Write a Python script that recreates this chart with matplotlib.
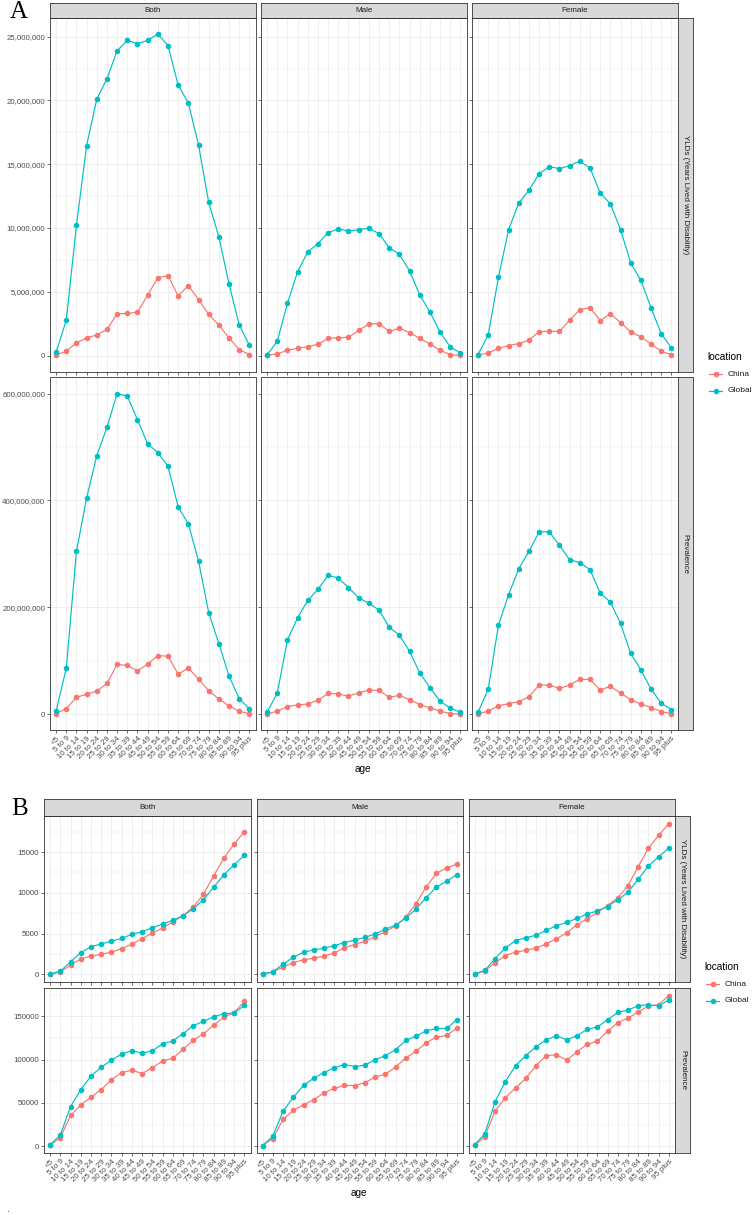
import matplotlib
matplotlib.use("Agg")
import matplotlib.pyplot as plt
from matplotlib.ticker import FuncFormatter, FixedLocator
import numpy as np

# ---------------- data ----------------
ages = ["<5", "5 to 9", "10 to 14", "15 to 19", "20 to 24", "25 to 29", "30 to 34",
        "35 to 39", "40 to 44", "45 to 49", "50 to 54", "55 to 59", "60 to 64",
        "65 to 69", "70 to 74", "75 to 79", "80 to 84", "85 to 89", "90 to 94", "95 plus"]
sexes = ["Both", "Male", "Female"]
locations = ["China", "Global"]
measures = ["YLDs (Years Lived with Disability)", "Prevalence"]

# Panel A: counts (millions)
both_yld_global = [0.25, 2.77, 10.2, 16.46, 20.1, 21.7, 23.9, 24.7, 24.45, 24.7, 25.2, 24.3, 21.2, 19.8, 16.5, 12.0, 9.3, 5.6, 2.4, 0.8]
both_yld_china = [0.05, 0.34, 1.0, 1.38, 1.62, 2.05, 3.27, 3.3, 3.4, 4.75, 6.09, 6.27, 4.68, 5.49, 4.39, 3.24, 2.38, 1.38, 0.47, 0.08]
male_yld_global = [0.05, 1.12, 4.1, 6.58, 8.13, 8.78, 9.64, 9.93, 9.77, 9.87, 9.98, 9.56, 8.46, 7.94, 6.64, 4.76, 3.42, 1.83, 0.68, 0.21]
male_yld_china = [0.04, 0.13, 0.42, 0.57, 0.7, 0.89, 1.36, 1.39, 1.44, 1.97, 2.48, 2.5, 1.89, 2.15, 1.8, 1.35, 0.91, 0.42, 0.08, 0.01]
female_yld_global = [0.08, 1.63, 6.14, 9.87, 11.96, 12.96, 14.26, 14.81, 14.65, 14.89, 15.23, 14.71, 12.75, 11.89, 9.87, 7.26, 5.9, 3.74, 1.72, 0.6]
female_yld_china = [0.04, 0.21, 0.57, 0.78, 0.94, 1.2, 1.88, 1.9, 1.9, 2.77, 3.6, 3.76, 2.74, 3.27, 2.59, 1.86, 1.46, 0.91, 0.34, 0.05]

both_prev_global = [6, 86.5, 304.8, 404.7, 484, 536.7, 600, 595, 551, 505.7, 489.6, 464, 388, 356, 287, 190, 132.5, 71.6, 29.4, 10]
both_prev_china = [1.5, 10.8, 32, 37.6, 43.7, 58, 93.4, 91.5, 81.5, 94, 110, 108.8, 75.3, 86.5, 66, 44.3, 28.8, 16, 6, 1.5]
male_prev_global = [4, 40, 139, 181, 213, 234, 260, 255, 237, 218, 208, 195, 163, 148.5, 118, 77.8, 50, 25, 11.5, 4]
male_prev_china = [1, 6, 14.6, 17.7, 19.5, 26.4, 39.4, 38, 34.4, 40, 45.6, 45, 32, 35.7, 27.5, 18.5, 12, 6, 1.5, 0.8]
female_prev_global = [4, 47.4, 167, 224, 272.6, 304.8, 341.4, 341.4, 316, 289, 284, 270.7, 227, 210, 170, 114, 83, 47.4, 21, 9]
female_prev_china = [1, 6, 16.4, 20, 23.8, 33, 55, 55, 48.7, 55, 65.5, 65.5, 45.6, 52.5, 40, 27.5, 19.5, 12.7, 5.2, 1.5]

# Panel B: rates
both_rate_yld_global = [40, 400, 1550, 2680, 3410, 3740, 4070, 4430, 4920, 5240, 5730, 6180, 6630, 7200, 8050, 9180, 10700, 12230, 13450, 14600]
both_rate_yld_china = [0, 300, 1140, 1910, 2240, 2480, 2720, 3170, 3740, 4390, 5080, 5690, 6420, 7200, 8250, 9840, 12100, 14270, 15980, 17500]
male_rate_yld_global = [80, 330, 1260, 2110, 2720, 3010, 3210, 3540, 3900, 4230, 4550, 4960, 5530, 6060, 6910, 8010, 9430, 10700, 11460, 12230]
male_rate_yld_china = [0, 300, 900, 1460, 1790, 1990, 2240, 2640, 3290, 3660, 4070, 4630, 5240, 5940, 7030, 8660, 10730, 12400, 13050, 13540]
female_rate_yld_global = [80, 490, 1950, 3250, 4150, 4510, 4800, 5400, 5980, 6380, 6870, 7400, 7800, 8330, 9150, 10080, 11670, 13290, 14430, 15490]
female_rate_yld_china = [0, 450, 1420, 2320, 2720, 2970, 3250, 3740, 4390, 5080, 6100, 6830, 7600, 8450, 9390, 10890, 13210, 15490, 17040, 18500]

both_rate_prev_global = [1500, 13000, 45800, 65300, 81000, 91300, 99300, 106500, 110300, 107300, 110300, 118000, 121700, 129800, 139300, 144000, 149600, 153000, 153800, 162600]
both_rate_prev_china = [1000, 10000, 35500, 47700, 56900, 65300, 76700, 85000, 87800, 83900, 90500, 98500, 101500, 111900, 122500, 129800, 139700, 148900, 154200, 167200]
male_rate_prev_global = [800, 11500, 40400, 56500, 70200, 78600, 85000, 90500, 94300, 92000, 93500, 99900, 104500, 111400, 122100, 127100, 133200, 135900, 135900, 146200]
male_rate_prev_china = [800, 8800, 30900, 41600, 47700, 53800, 61500, 66800, 70200, 70000, 73300, 79800, 83200, 91300, 101900, 109600, 119400, 126000, 127900, 136300]
female_rate_prev_global = [1500, 14500, 51500, 74400, 93100, 104500, 114800, 122900, 127400, 122900, 127500, 134800, 137800, 145800, 154600, 157200, 162200, 163400, 161800, 169100]
female_rate_prev_china = [1000, 11100, 40500, 56100, 67200, 78200, 93100, 104500, 105700, 99300, 108800, 117600, 121400, 132500, 142800, 147700, 155000, 161800, 163400, 174000]

yticks_A_yld = [0, 5e6, 10e6, 15e6, 20e6, 25e6]
yticks_A_prev = [0, 200e6, 400e6, 600e6]
yticks_B_yld = [0, 5000, 10000, 15000]
yticks_B_prev = [0, 50000, 100000, 150000]

M = 1e6
A_data = {
    0: {"Both": (both_yld_china, both_yld_global), "Male": (male_yld_china, male_yld_global),
        "Female": (female_yld_china, female_yld_global)},
    1: {"Both": (both_prev_china, both_prev_global), "Male": (male_prev_china, male_prev_global),
        "Female": (female_prev_china, female_prev_global)},
}
B_data = {
    0: {"Both": (both_rate_yld_china, both_rate_yld_global), "Male": (male_rate_yld_china, male_rate_yld_global),
        "Female": (female_rate_yld_china, female_rate_yld_global)},
    1: {"Both": (both_rate_prev_china, both_rate_prev_global), "Male": (male_rate_prev_china, male_rate_prev_global),
        "Female": (female_rate_prev_china, female_rate_prev_global)},
}

# ---------------- style ----------------
W, H = 752, 1215
DPI = 100
plt.rcParams["font.family"] = ["Liberation Sans", "DejaVu Sans"]
colors = {"China": "#F8766D", "Global": "#00BFC4"}
BORDER = "#333333"
GRID = "#EBEBEB"
TICKC = "#4D4D4D"
STRIP = "#D9D9D9"
MS = 4.0
LW = 0.85

fig = plt.figure(figsize=(W / DPI, H / DPI), dpi=DPI)


def add_ax(x0, y0, x1, y1):
    return fig.add_axes([x0 / W, 1 - y1 / H, (x1 - x0) / W, (y1 - y0) / H])


def strip(x0, y0, x1, y1, text, rot=0):
    a = add_ax(x0, y0, x1, y1)
    a.set_xticks([]); a.set_yticks([])
    a.set_facecolor(STRIP)
    for s in a.spines.values():
        s.set_color(BORDER); s.set_linewidth(0.6)
    a.text(0.5, 0.5, text, ha="center", va="center", rotation=rot,
           fontsize=5.8, color="#1A1A1A", transform=a.transAxes)


comma = FuncFormatter(lambda v, p: f"{int(round(v)):,}")
plain = FuncFormatter(lambda v, p: f"{int(round(v))}")


def panel(ax, china, glob, scale, yticks, ylim, left, bottom, fmt):
    x = np.arange(len(ages))
    c = np.array(china) * scale
    g = np.array(glob) * scale
    ax.plot(x, c, color=colors["China"], lw=LW, zorder=3)
    ax.plot(x, g, color=colors["Global"], lw=LW, zorder=3)
    ax.plot(x, c, "o", color=colors["China"], ms=MS, mew=0, zorder=4)
    ax.plot(x, g, "o", color=colors["Global"], ms=MS, mew=0, zorder=5)
    ax.set_xlim(-0.6, len(ages) - 1 + 0.6)
    ax.set_ylim(*ylim)
    ax.set_xticks(x)
    ax.yaxis.set_major_locator(FixedLocator(yticks))
    step = yticks[1] - yticks[0]
    minors = [t + step / 2 for t in yticks] + [yticks[0] - step / 2]
    ax.yaxis.set_minor_locator(FixedLocator(minors))
    ax.grid(True, which="major", color=GRID, lw=0.6, zorder=0)
    ax.grid(True, which="minor", axis="y", color=GRID, lw=0.35, zorder=0)
    ax.set_axisbelow(True)
    for s in ax.spines.values():
        s.set_color(BORDER); s.set_linewidth(0.6)
    ax.tick_params(which="major", length=2, width=0.5, color=BORDER, labelsize=5.7,
                   labelcolor=TICKC, pad=1.5)
    ax.tick_params(which="minor", length=0)
    if bottom:
        ax.set_xticklabels(ages, rotation=45, ha="right", rotation_mode="anchor")
    else:
        ax.set_xticklabels([])
    if left:
        ax.yaxis.set_major_formatter(fmt)
    else:
        ax.set_yticklabels([])


def row_ylim(rowdata, scale):
    vals = []
    for k in rowdata:
        vals += list(rowdata[k][0]) + list(rowdata[k][1])
    vals = np.array(vals) * scale
    lo, hi = vals.min(), vals.max()
    r = hi - lo
    return (lo - 0.05 * r, hi + 0.05 * r)


def block(data, scale, cols, strip_y, rows, rstrip_x, ticks, fmt, legend_pos, age_pos):
    for r, (ry0, ry1) in enumerate(rows):
        ylim = row_ylim(data[r], scale)
        for ci, sex in enumerate(sexes):
            cx0, cx1 = cols[ci]
            ax = add_ax(cx0, ry0, cx1, ry1)
            ch, gl = data[r][sex]
            panel(ax, ch, gl, scale, ticks[r], ylim, ci == 0, r == len(rows) - 1, fmt)
        strip(rstrip_x[0], ry0, rstrip_x[1], ry1, measures[r], rot=-90)
    for ci, sex in enumerate(sexes):
        strip(cols[ci][0], strip_y[0], cols[ci][1], strip_y[1], sex)
    # legend
    lx, ly = legend_pos
    fig.text(lx / W, 1 - ly / H, "location", fontsize=7.3, va="center", ha="left", color="#000000")
    for i, loc in enumerate(locations):
        yy = ly + 17 + i * 16.5
        lax = add_ax(lx + 1, yy - 6, lx + 16, yy + 6)
        lax.set_axis_off()
        lax.set_xlim(0, 1); lax.set_ylim(-1, 1)
        lax.plot([0.05, 0.95], [0, 0], color=colors[loc], lw=LW)
        lax.plot([0.5], [0], "o", color=colors[loc], ms=MS, mew=0)
        fig.text((lx + 21) / W, 1 - yy / H, loc, fontsize=6.0, va="center", ha="left", color="#1A1A1A")
    fig.text(age_pos[0] / W, 1 - age_pos[1] / H, "age", fontsize=7.2, ha="center", va="center")


# Panel A
block(A_data, M,
      cols=[(50, 255.5), (261, 466.5), (472, 677.5)],
      strip_y=(3, 18),
      rows=[(18, 371.5), (377.5, 730)],
      rstrip_x=(677.5, 693),
      ticks=[yticks_A_yld, yticks_A_prev],
      fmt=comma,
      legend_pos=(707, 357),
      age_pos=(363, 769))

# Panel B
block(B_data, 1.0,
      cols=[(44, 250.5), (256.5, 463), (468.5, 675)],
      strip_y=(799, 816),
      rows=[(816, 982), (988, 1153)],
      rstrip_x=(675, 690),
      ticks=[yticks_B_yld, yticks_B_prev],
      fmt=plain,
      legend_pos=(704, 967),
      age_pos=(359, 1193))

fig.text(10 / W, 1 - 12 / H, "A", fontsize=18, family="Liberation Serif", va="center", ha="left")
fig.text(11 / W, 1 - 809 / H, "B", fontsize=18, family="Liberation Serif", va="center", ha="left")
fig.text(6 / W, 1 - 1209 / H, ".", fontsize=7, va="center", ha="left")

fig.savefig("out.png", dpi=DPI)
